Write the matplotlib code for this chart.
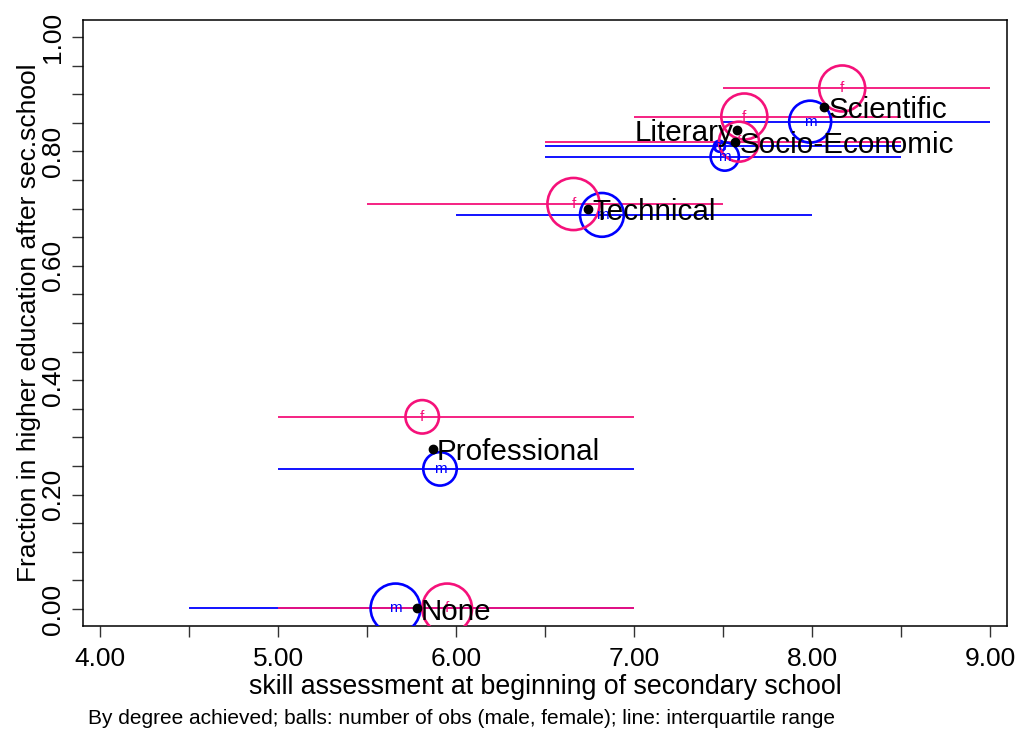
import matplotlib
matplotlib.use("Agg")
import matplotlib.pyplot as plt
import numpy as np

plt.rcParams['font.family'] = ['Liberation Sans', 'DejaVu Sans']

# ---- data ----
degrees = ["None", "Professional", "Technical", "Literary", "Socio-Economic", "Scientific"]
# overall mean skill and fraction per degree (black dots)
all_skill = [5.78, 5.87, 6.74, 7.58, 7.57, 8.07]
all_frac = [0.001, 0.280, 0.699, 0.837, 0.816, 0.878]
label_side = ["right", "right", "right", "left", "right", "right"]

# male
male_skill = [5.66, 5.91, 6.82, 7.51, 7.48, 7.99]
male_frac = [0.001, 0.245, 0.689, 0.791, 0.809, 0.852]
male_n = [62, 28, 48, 20, 3, 44]
male_q25 = [4.5, 5.0, 6.0, 6.5, 6.5, 7.5]
male_q75 = [7.0, 7.0, 8.0, 8.5, 8.5, 9.0]

# female
female_skill = [5.95, 5.81, 6.66, 7.62, 7.59, 8.17]
female_frac = [0.001, 0.336, 0.708, 0.861, 0.817, 0.910]
female_n = [62, 28, 68, 53, 40, 53]
female_q25 = [5.0, 5.0, 5.5, 7.0, 6.5, 7.5]
female_q75 = [7.0, 7.0, 7.5, 8.5, 8.5, 9.0]

x_ticks_major = [4.0, 5.0, 6.0, 7.0, 8.0, 9.0]
y_ticks_major = [0.0, 0.2, 0.4, 0.6, 0.8, 1.0]

BLUE = "#0000FF"
PINK = "#F5117A"

W, H = 1021, 736
fig = plt.figure(figsize=(W / 100, H / 100), dpi=100)
ax = fig.add_axes([83 / W, (H - 626) / H, (1007 - 83) / W, (626 - 20) / H])

# interquartile range lines
ax.hlines(male_frac, male_q25, male_q75, colors=BLUE, linewidth=1.3, zorder=2)
ax.hlines(female_frac, female_q25, female_q75, colors=PINK, linewidth=1.3, zorder=2)

# balls (size ~ number of obs)
k = 20.7
ax.scatter(male_skill, male_frac, s=np.array(male_n) * k, facecolors="none",
           edgecolors=BLUE, linewidths=1.9, zorder=3)
ax.scatter(female_skill, female_frac, s=np.array(female_n) * k, facecolors="none",
           edgecolors=PINK, linewidths=1.9, zorder=3)
for x, y in zip(male_skill, male_frac):
    ax.text(x, y, "m", color=BLUE, fontsize=11, ha="center", va="center", zorder=4)
for x, y in zip(female_skill, female_frac):
    ax.text(x, y, "f", color=PINK, fontsize=11, ha="center", va="center", zorder=4)

# overall dots and labels
ax.plot(all_skill, all_frac, "o", color="black", markersize=6, linestyle="none", zorder=5)
for name, x, y, side in zip(degrees, all_skill, all_frac, label_side):
    dx = 3.0 if side == "right" else -3.0
    ax.annotate(name, (x, y), xytext=(dx, -8.0), textcoords="offset points",
                ha="left" if side == "right" else "right", va="baseline",
                fontsize=21.3, color="black", zorder=6)

ax.set_xlim(3.904, 9.096)
ax.set_ylim(-0.0297, 1.0297)

ax.set_xticks(np.arange(4.0, 9.01, 0.5), minor=True)
ax.set_xticks(x_ticks_major)
ax.set_xticklabels(["%.2f" % v for v in x_ticks_major])
ax.set_yticks(np.arange(0.0, 1.001, 0.05), minor=True)
ax.set_yticks(y_ticks_major)
ax.set_yticklabels(["%.2f" % v for v in y_ticks_major], rotation=90, va="center")

ax.tick_params(axis="both", which="both", direction="out", length=8, width=1.0,
               labelsize=19, color="#333333")
ax.tick_params(axis="x", which="both", pad=7)
ax.tick_params(axis="y", which="both", pad=5)
for sp in ax.spines.values():
    sp.set_linewidth(1.1)

ax.set_xlabel("skill assessment at beginning of secondary school", fontsize=19.3, labelpad=2)
ax.set_ylabel("Fraction in higher education after sec.school", fontsize=19, labelpad=0)

fig.text(88 / W, 1 - 724 / H,
         "By degree achieved; balls: number of obs (male, female); line: interquartile range",
         fontsize=15, ha="left", va="baseline")

fig.savefig("out.png", dpi=100)
